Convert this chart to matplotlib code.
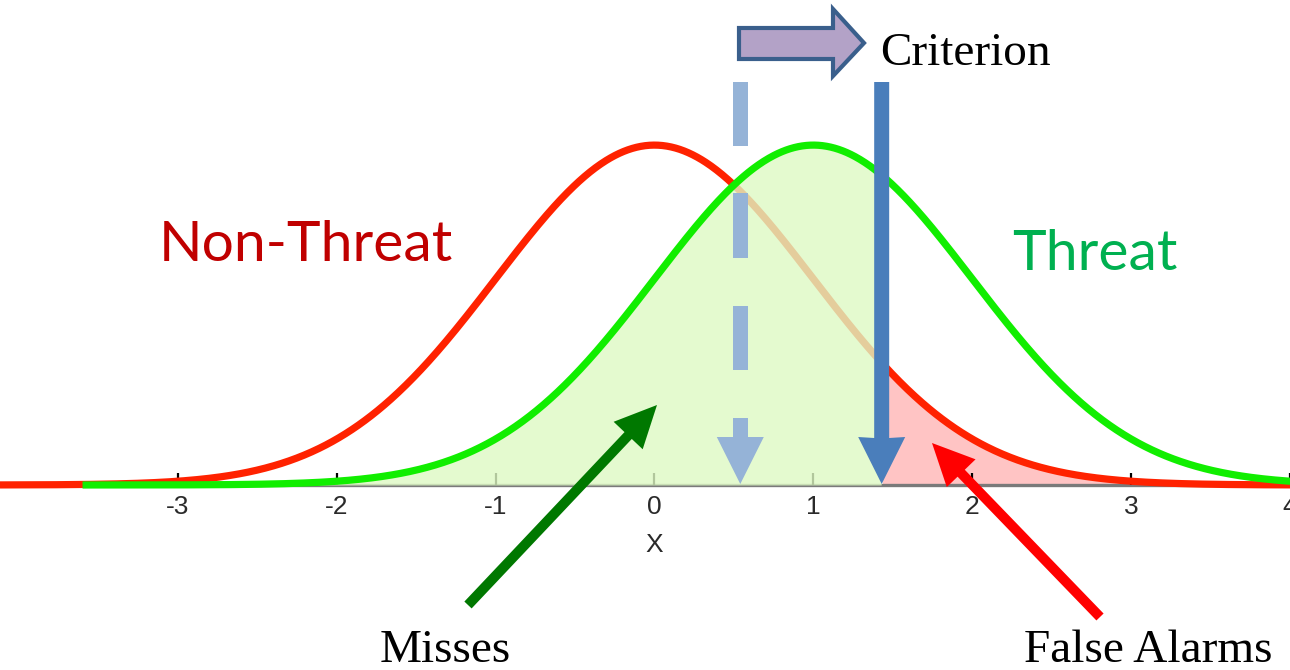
import numpy as np
import matplotlib
matplotlib.use("Agg")
import matplotlib.pyplot as plt
from matplotlib.patches import Polygon, FancyArrow
from matplotlib.transforms import Affine2D

# ---- data ----
noise_mean = 0.0
signal_mean = 1.0
sd = 1.0
criterion = 1.43
old_criterion = 0.54
tick_values = [-3, -2, -1, 0, 1, 2, 3, 4]
tick_labels = ['-3', '-2', '-1', '0', '1', '2', '3', '4']
axis_label = 'X'
label_noise = 'Non-Threat'
label_signal = 'Threat'
label_criterion = 'Criterion'
label_misses = 'Misses'
label_fa = 'False Alarms'

def pdf(x, m, s):
    return np.exp(-0.5 * ((x - m) / s) ** 2) / (s * np.sqrt(2 * np.pi))

W, H = 1290, 670
fig = plt.figure(figsize=(W / 100, H / 100), dpi=100)
ax = fig.add_axes([0, 0, 1, 1])
x0px, unit = 655.0, 159.0
ax.set_xlim((0 - x0px) / unit, (W - x0px) / unit)
yscale = 852.0
ax.set_ylim(-(H - 485) / yscale, 485 / yscale)
for s in ['top', 'left', 'right']:
    ax.spines[s].set_visible(False)
ax.spines['bottom'].set_position(('data', 0))
ax.spines['bottom'].set_bounds(-3.55, 4.2)
ax.spines['bottom'].set_color('#7a7a7a')
ax.spines['bottom'].set_linewidth(2.4)
ax.spines['bottom'].set_zorder(1)
ax.set_yticks([])
ax.set_xticks(tick_values)
ax.set_xticklabels(tick_labels, fontfamily='Liberation Sans', fontsize=19, color='#2a2a2a')
ax.tick_params(axis='x', direction='in', length=9, width=1.6, color='black', pad=7)
ax.set_xlabel(axis_label, fontfamily='Liberation Sans', fontsize=19, color='#2a2a2a')
xl = ax.get_xlim()
ax.xaxis.set_label_coords((0 - xl[0]) / (xl[1] - xl[0]), (670 - 533) / 670)

xs = np.linspace(xl[0], 4.05, 1200)
xg = np.linspace(-3.6, 4.05, 1200)

# red fill right of criterion
xr = xs[xs >= criterion]
ax.fill_between(xr, 0, pdf(xr, noise_mean, sd), color='#ffc4c4', lw=0, zorder=1)
# red curve
ax.plot(xs, pdf(xs, noise_mean, sd), color='#ff2200', lw=5.2, zorder=2, solid_capstyle='butt')
# green fill (semi-opaque over the red curve)
xgf = xs[xs <= criterion]
ax.fill_between(xgf, 0, pdf(xgf, signal_mean, sd), color=(222/255, 249/255, 196/255), alpha=0.8, lw=0, zorder=3)
# green curve
ax.plot(xg, pdf(xg, signal_mean, sd), color='#11ee00', lw=5.2, zorder=4, solid_capstyle='butt')

# pixel transform (origin top-left)
pt = Affine2D().scale(0.01, -0.01).translate(0, H / 100) + fig.dpi_scale_trans

fig.canvas.draw()
def xpix(xd):
    return ax.transData.transform((xd, 0))[0]

# dashed old-criterion arrow
cx = xpix(old_criterion)
hw = 7.5
for (y1, y2) in [(82, 146), (193, 258), (306, 370), (418, 438)]:
    ax.add_patch(Polygon([(cx - hw, y1), (cx + hw, y1), (cx + hw, y2), (cx - hw, y2)],
                         closed=True, transform=pt, color='#95b3d7', lw=0, zorder=6))
ax.add_patch(Polygon([(cx - 23.5, 437), (cx + 23.5, 437), (cx, 484)], closed=True,
                     transform=pt, color='#95b3d7', lw=0, zorder=6))

# solid criterion arrow
cx = xpix(criterion)
ax.add_patch(Polygon([(cx - hw, 82), (cx + hw, 82), (cx + hw, 438), (cx + 23.5, 437), (cx, 484),
                      (cx - 23.5, 437), (cx - hw, 438)], closed=True,
                     transform=pt, color='#4a7ebb', lw=0, zorder=6))

# block arrow at top
ax.add_patch(Polygon([(739, 28), (833, 28), (833, 9), (864, 43), (833, 76), (833, 59), (739, 59)],
                     closed=True, transform=pt, facecolor='#b3a2c7', edgecolor='#3a5f8c',
                     lw=3, zorder=7, joinstyle='miter'))

# Misses arrow
ax.add_patch(FancyArrow(468, 605, 657 - 468, 405 - 605, width=10, head_width=40, head_length=42,
                        length_includes_head=True, transform=pt, color='#007800', lw=0, zorder=8))
# False alarms arrow
ax.add_patch(FancyArrow(1100, 617, 932 - 1100, 443 - 617, width=10, head_width=40, head_length=42,
                        length_includes_head=True, transform=pt, color='#ff0000', lw=0, zorder=8))

# texts
fig.text(306 / W, 1 - 245 / H, label_noise, fontfamily='Lato', fontsize=41, color='#c00000',
         ha='center', va='center')
fig.text(1095 / W, 1 - 255 / H, label_signal, fontfamily='Lato', fontsize=41, color='#00b050',
         ha='center', va='center')
fig.text(880 / W, 1 - 65 / H, label_criterion, fontfamily='Liberation Serif', fontsize=34,
         color='black', ha='left', va='baseline')
fig.text(445 / W, 1 - 662 / H, label_misses, fontfamily='Liberation Serif', fontsize=34,
         color='black', ha='center', va='baseline')
fig.text(1148 / W, 1 - 662 / H, label_fa, fontfamily='Liberation Serif', fontsize=34,
         color='black', ha='center', va='baseline')

fig.savefig('out.png', dpi=100)
